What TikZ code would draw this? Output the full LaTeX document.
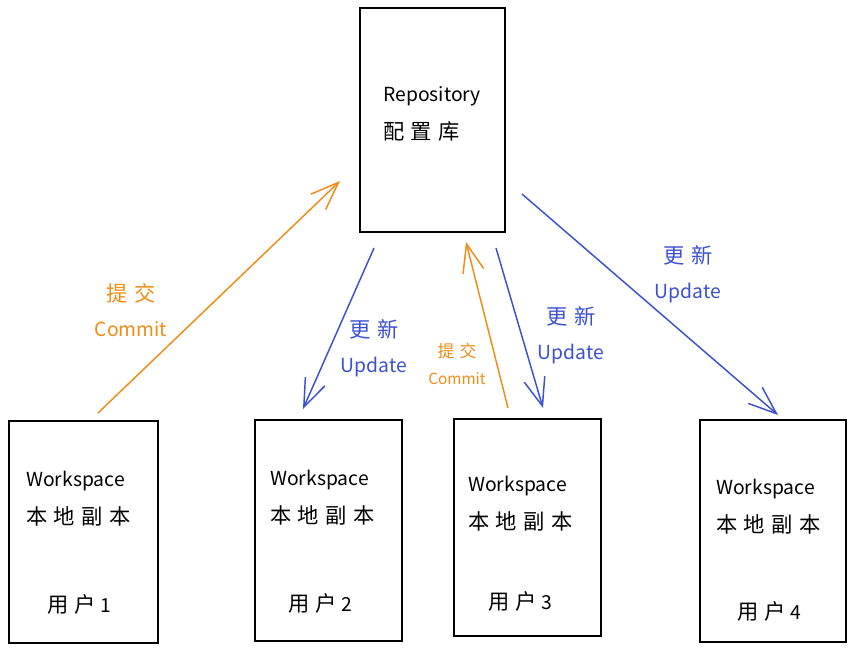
\documentclass[tikz,border=0pt]{standalone}
\usepackage{fontspec}
\setmainfont{Noto Sans CJK SC}
\newfontfamily\cjk{Noto Sans CJK SC}[LetterSpace=30,Scale=1.1]
\usetikzlibrary{arrows.meta}
\definecolor{commitc}{RGB}{240,140,20}
\definecolor{updatec}{RGB}{60,80,210}
\tikzset{
  box/.style={draw, line width=1.2pt, inner sep=0pt},
  txt/.style={anchor=west, inner sep=0.75pt, font=\fontsize{14.5}{18}\selectfont},
  lbl/.style={inner sep=0.75pt, align=center, font=\fontsize{14.5}{26}\selectfont},
  commit/.style={draw=commitc, line width=1.1pt, line join=round,
    -{Straight Barb[length=21pt,width=16pt,line width=1.1pt]}},
  update/.style={draw=updatec, line width=1.1pt, line join=round,
    -{Straight Barb[length=21pt,width=16pt,line width=1.1pt]}}
}
\begin{document}
\begin{tikzpicture}[x=0.75pt,y=-0.75pt]
    \useasboundingbox (0,0) rectangle (856,654);
    %Shape: Rectangle [repository]
    \node[box, minimum width=108.75pt, minimum height=168pt] (repo) at (432.5,120) {};
    %Shape: Rectangle [users]
    \node[box, minimum width=111.75pt, minimum height=166.5pt] (user1) at (83.5,532) {};
    \node[box, minimum width=110.25pt, minimum height=165.75pt] (user2) at (328.5,530.5) {};
    \node[box, minimum width=110.25pt, minimum height=162.75pt] (user3) at (527.5,527.5) {};
    \node[box, minimum width=109.5pt, minimum height=166.5pt] (user4) at (773,531) {};

    % Text Node
    \node[txt] (repoen) at (382,96) {Repository};
    \node[txt] (repocn) at (382,131) {\cjk 配置库};
    % Text Node
    \node[txt] (ws1) at (25,481) {Workspace};
    \node[txt] (cn1) at (25,516) {\cjk 本地副本};
    \node[txt] (usr1) at (46,604) {{\cjk 用户} 1};
    % Text Node
    \node[txt] (ws2) at (269,480) {Workspace};
    \node[txt] (cn2) at (269,515) {\cjk 本地副本};
    \node[txt] (usr2) at (287,603) {{\cjk 用户} 2};
    % Text Node
    \node[txt] (ws3) at (467,486) {Workspace};
    \node[txt] (cn3) at (467,521) {\cjk 本地副本};
    \node[txt] (usr3) at (487,601) {{\cjk 用户} 3};
    % Text Node
    \node[txt] (ws4) at (715,489) {Workspace};
    \node[txt] (cn4) at (715,524) {\cjk 本地副本};
    \node[txt] (usr4) at (736,611) {{\cjk 用户} 4};

    %Arrow ends
    \coordinate (c1a) at (98,413);
    \coordinate (c1b) at (340,181);
    \coordinate (u2a) at (374,248);
    \coordinate (u2b) at (303,409);
    \coordinate (c3a) at (508,408);
    \coordinate (c3b) at (466,242);
    \coordinate (u3a) at (496,248);
    \coordinate (u3b) at (543,408);
    \coordinate (u4a) at (522,194);
    \coordinate (u4b) at (778,415);

    %Straight Lines [arrows]
    \draw[commit] (c1a) -- (c1b);
    \draw[update] (u2a) -- (u2b);
    \draw[commit] (c3a) -- (c3b);
    \draw[update] (u3a) -- (u3b);
    \draw[update] (u4a) -- (u4b);

    % Text Node
    \node[lbl, text=commitc] (lc1) at (131,310) {{\cjk 提交}\\Commit};
    \node[lbl, text=updatec] (lu2) at (374,348) {{\cjk 更新}\\Update};
    \node[lbl, text=commitc, font=\fontsize{11.5}{20}\selectfont] (lc3) at (457,364) {{\cjk 提交}\\Commit};
    \node[lbl, text=updatec] (lu3) at (571,335) {{\cjk 更新}\\Update};
    \node[lbl, text=updatec] (lu4) at (688,274) {{\cjk 更新}\\Update};
\end{tikzpicture}
\end{document}
